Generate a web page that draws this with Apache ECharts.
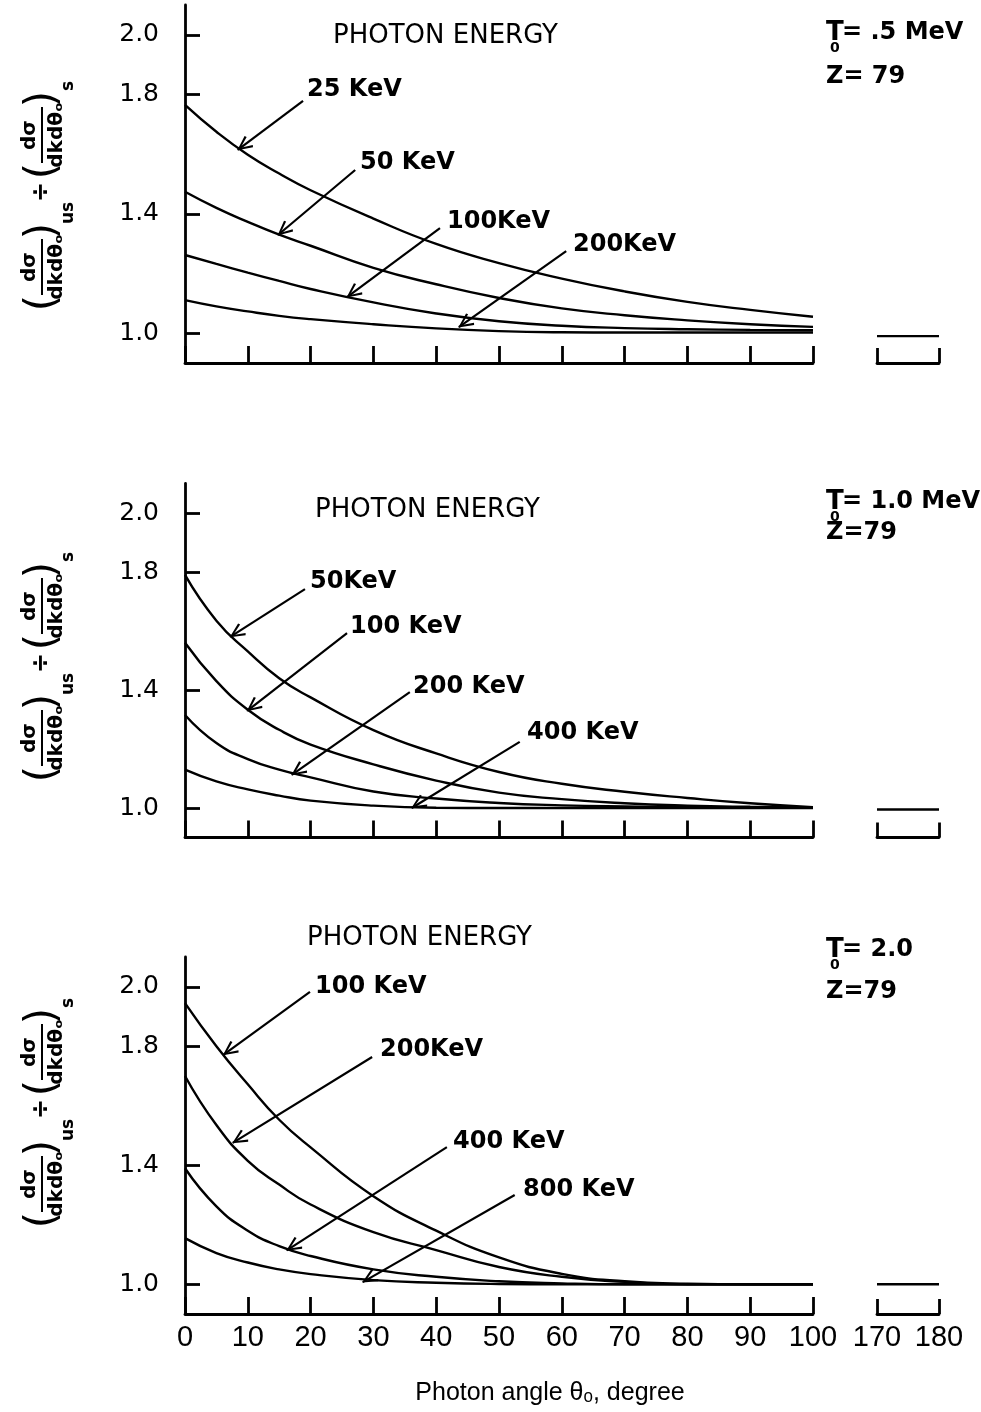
<!DOCTYPE html>
<html><head><meta charset="utf-8">
<script src="https://cdn.jsdelivr.net/npm/echarts@6/dist/echarts.min.js"></script>
<style>html,body{margin:0;padding:0;background:#fff}#c{width:981px;height:1412px}</style>
</head><body><div id="c"></div>
<script>
// ---------- data ----------
const angles = [0, 5, 10, 15, 20, 30, 40, 50, 60, 70, 80, 90, 100];
const sideAngles = [170, 180];
const yTickValues = [1.0, 1.4, 1.8, 2.0];

// Panel 1: T0 = 0.5 MeV
const p1Labels = ['25 KeV', '50 KeV', '100KeV', '200KeV'];
const p1_25  = [1.765, 1.675, 1.598, 1.535, 1.479, 1.384, 1.299, 1.235, 1.183, 1.140, 1.105, 1.078, 1.055];
const p1_50  = [1.474, 1.420, 1.373, 1.330, 1.293, 1.219, 1.164, 1.118, 1.083, 1.060, 1.043, 1.030, 1.021];
const p1_100 = [1.262, 1.232, 1.203, 1.175, 1.148, 1.103, 1.066, 1.040, 1.025, 1.017, 1.013, 1.011, 1.010];
const p1_200 = [1.111, 1.090, 1.073, 1.058, 1.047, 1.030, 1.016, 1.007, 1.003, 1.002, 1.002, 1.002, 1.002];
const p1Side = [0.99, 0.99];
const p1Arrows = [[18.8, 1.779, 8.4, 1.614], [27.1, 1.547, 14.8, 1.329], [40.6, 1.352, 25.8, 1.121], [60.7, 1.275, 43.6, 1.020]];

// Panel 2: T0 = 1.0 MeV
const p2Labels = ['50KeV', '100 KeV', '200 KeV', '400 KeV'];
const p2_50  = [1.790, 1.635, 1.531, 1.440, 1.375, 1.264, 1.185, 1.122, 1.082, 1.055, 1.034, 1.016, 1.003];
const p2_100 = [1.560, 1.430, 1.333, 1.265, 1.215, 1.148, 1.093, 1.052, 1.030, 1.016, 1.008, 1.004, 1.002];
const p2_200 = [1.315, 1.220, 1.166, 1.130, 1.104, 1.056, 1.032, 1.017, 1.009, 1.005, 1.003, 1.002, 1.001];
const p2_400 = [1.130, 1.090, 1.063, 1.042, 1.025, 1.008, 1.001, 1.000, 1.000, 1.000, 1.000, 1.000, 1.000];
const p2Side = [0.995, 0.995];
const p2Arrows = [[19.1, 1.742, 7.2, 1.580], [25.8, 1.593, 9.9, 1.329], [35.8, 1.393, 17.0, 1.112], [53.3, 1.224, 36.1, 1.000]];

// Panel 3: T0 = 2.0 MeV
const p3Labels = ['100 KeV', '200KeV', '400 KeV', '800 KeV'];
const p3_100 = [1.945, 1.800, 1.672, 1.553, 1.460, 1.296, 1.180, 1.090, 1.035, 1.010, 1.002, 1.000, 1.000];
const p3_200 = [1.700, 1.535, 1.415, 1.335, 1.268, 1.175, 1.115, 1.058, 1.025, 1.008, 1.000, 1.000, 1.000];
const p3_400 = [1.390, 1.262, 1.180, 1.128, 1.095, 1.050, 1.025, 1.010, 1.003, 1.000, 1.000, 1.000, 1.000];
const p3_800 = [1.155, 1.105, 1.073, 1.050, 1.034, 1.014, 1.005, 1.001, 1.000, 1.000, 1.000, 1.000, 1.000];
const p3Side = [1.0, 1.0];
const p3Arrows = [[19.9, 1.983, 6.1, 1.771], [29.8, 1.764, 7.6, 1.475], [41.7, 1.461, 16.2, 1.114], [52.5, 1.300, 28.3, 1.007]];

const headerTexts = ['= .5 MeV', '= 1.0 MeV', '= 2.0'];
const zTexts = ['Z= 79', 'Z=79', 'Z=79'];

// ---------- layout / style ----------
const FONT = '"DejaVu Sans", sans-serif';
const panels = [
  { top: 5, height: 358, curves: [p1_25, p1_50, p1_100, p1_200], side: p1Side, arrows: p1Arrows, labels: p1Labels,
    labelPos: [[307, 90], [360, 163], [447, 222], [573, 245]], photon: [333, 36], head: 33, zy: 77, ycenter: 195 },
  { top: 483.5, height: 354, curves: [p2_50, p2_100, p2_200, p2_400], side: p2Side, arrows: p2Arrows, labels: p2Labels,
    labelPos: [[310, 582], [350, 627], [413, 687], [527, 733]], photon: [315, 510], head: 502, zy: 533, ycenter: 666 },
  { top: 957, height: 357, curves: [p3_100, p3_200, p3_400, p3_800], side: p3Side, arrows: p3Arrows, labels: p3Labels,
    labelPos: [[315, 987], [380, 1050], [453, 1142], [523, 1190]], photon: [307, 938], head: 950, zy: 992, ycenter: 1112 }
];

const ARROW = 'path://M5,0 L10.5,11 L9,11.9 L5,3.2 L1,11.9 L-0.5,11 Z M5,-11 L5.01,-11 L5,-10.99 Z';
const black = '#000';

const grid = [], xAxis = [], yAxis = [], series = [], graphic = [];

panels.forEach((p, i) => {
  const last = i === panels.length - 1;
  grid.push({ left: 185, width: 628, top: p.top, height: p.height });
  grid.push({ left: 877, width: 62, top: p.top, height: p.height });
  const axisCommon = {
    type: 'value', interval: 10,
    axisLine: { show: true, onZero: false, lineStyle: { color: black, width: 2.8 } },
    splitLine: { show: false },
    axisLabel: { show: last, color: black, fontSize: 29, fontFamily: '"Liberation Sans", sans-serif', margin: 9 }
  };
  xAxis.push(Object.assign({}, axisCommon, { gridIndex: 2 * i, min: 0, max: 100,
    axisTick: { inside: true, length: 17, lineStyle: { color: black, width: 2.8 } } }));
  xAxis.push(Object.assign({}, axisCommon, { gridIndex: 2 * i + 1, min: 170, max: 180,
    axisTick: { inside: true, length: 15, lineStyle: { color: black, width: 2.8 } } }));
  yAxis.push({
    type: 'value', gridIndex: 2 * i, min: 0.9, max: 2.1,
    axisLine: { show: true, onZero: false, lineStyle: { color: black, width: 2.8 } },
    axisTick: { show: true, inside: true, length: 15, customValues: yTickValues, lineStyle: { color: black, width: 2.8 } },
    axisLabel: { show: true, customValues: yTickValues, formatter: v => v.toFixed(1), color: black, fontSize: 25, fontFamily: FONT, margin: 26 },
    splitLine: { show: false }
  });
  yAxis.push({ type: 'value', gridIndex: 2 * i + 1, min: 0.9, max: 2.1, show: false });

  p.curves.forEach((vals, k) => {
    const a = p.arrows[k];
    series.push({
      type: 'line', xAxisIndex: 2 * i, yAxisIndex: 2 * i, name: p.labels[k],
      data: angles.map((x, j) => [x, vals[j]]),
      showSymbol: false, smooth: 0.5, silent: true,
      lineStyle: { color: black, width: 2.4 },
      markLine: {
        silent: true, symbol: ['none', ARROW], symbolSize: [14, 30],
        lineStyle: { color: black, width: 2.2, type: 'solid' },
        itemStyle: { color: black },
        label: { show: false }, emphasis: { disabled: true },
        data: [[{ coord: [a[0], a[1]] }, { coord: [a[2], a[3]] }]]
      }
    });
  });
  series.push({
    type: 'line', xAxisIndex: 2 * i + 1, yAxisIndex: 2 * i + 1,
    data: sideAngles.map((x, j) => [x, p.side[j]]),
    showSymbol: false, silent: true, lineStyle: { color: black, width: 2.4 }
  });

  // annotations
  graphic.push({ type: 'text', x: p.photon[0], y: p.photon[1],
    style: { text: 'PHOTON ENERGY', font: '26px ' + FONT, fill: black, textVerticalAlign: 'middle' } });
  p.labels.forEach((t, k) => {
    graphic.push({ type: 'text', x: p.labelPos[k][0], y: p.labelPos[k][1],
      style: { text: t, font: 'bold 24px ' + FONT, fill: black, textVerticalAlign: 'middle' } });
  });
  graphic.push({ type: 'text', x: 826, y: p.head, style: { text: 'T', font: 'bold 26px ' + FONT, fill: black, textVerticalAlign: 'middle' } });
  graphic.push({ type: 'text', x: 830, y: p.head + 15, style: { text: '0', font: 'bold 14px ' + FONT, fill: black, textVerticalAlign: 'middle' } });
  graphic.push({ type: 'text', x: 842, y: p.head, style: { text: headerTexts[i], font: 'bold 24px ' + FONT, fill: black, textVerticalAlign: 'middle' } });
  graphic.push({ type: 'text', x: 826, y: p.zy, style: { text: zTexts[i], font: 'bold 24px ' + FONT, fill: black, textVerticalAlign: 'middle' } });

  // rotated y-axis label
  const F = 'bold 20px ' + FONT, FP = '42px ' + FONT, FS = 'bold 17px ' + FONT;
  const t = (x, y, s, f) => ({ type: 'text', x, y, style: { text: s, font: f, fill: black, textAlign: 'center', textVerticalAlign: 'middle' } });
  graphic.push({
    type: 'group', x: 42, y: p.ycenter, rotation: Math.PI / 2,
    children: [
      t(-108, 2, '(', FP),
      t(-72, -12, 'dσ', F),
      { type: 'line', shape: { x1: -100, y1: 0, x2: -44, y2: 0 }, style: { stroke: black, lineWidth: 2 } },
      t(-72, 15, 'dkdθₒ', F),
      t(-36, 2, ')', FP),
      t(-18, 27, 'us', FS),
      t(3, 0, '÷', 'bold 24px ' + FONT),
      t(24, 2, '(', FP),
      t(60, -12, 'dσ', F),
      { type: 'line', shape: { x1: 32, y1: 0, x2: 88, y2: 0 }, style: { stroke: black, lineWidth: 2 } },
      t(60, 15, 'dkdθₒ', F),
      t(96, 2, ')', FP),
      t(109, 27, 's', FS)
    ]
  });
});

graphic.push({ type: 'text', x: 550, y: 1393,
  style: { text: 'Photon angle θₒ, degree', font: '25px "Liberation Sans", sans-serif', fill: black, textAlign: 'center', textVerticalAlign: 'middle' } });

const chart = echarts.init(document.getElementById('c'), null, { renderer: 'canvas' });
chart.setOption({ animation: false, backgroundColor: '#fff', grid, xAxis, yAxis, series, graphic });
</script></body></html>
